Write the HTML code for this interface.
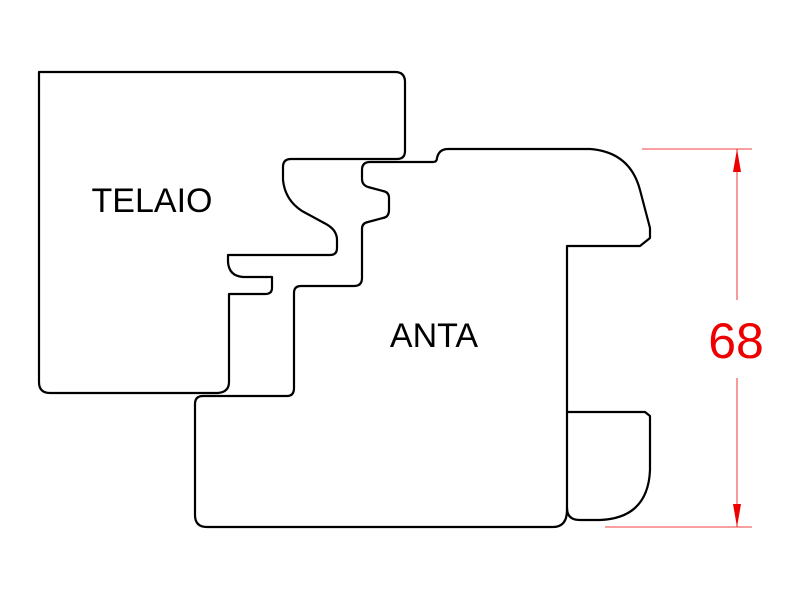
<!DOCTYPE html>
<html><head><style>body{margin:0;background:#fff}svg{display:block}</style></head><body>
<svg width="800" height="600" viewBox="0 0 800 600" xmlns="http://www.w3.org/2000/svg">
<g fill="none" stroke="#000" stroke-width="2.2" stroke-linejoin="round">
<path d="M39,72 L395,72 Q405,72 405,82 L405,151 Q405,159 397,159 L291,159 Q283,159 283,167 L283,180 Q285,200 302,211 L326,224 Q337,230 337,240 L337,248 Q337,255 330,255 L228,255 L228,262 Q229,276 243,277 L272,277 L272,288 Q272,294 265,294 L229,294 L229,382 Q229,392 218,393 L50,393 Q39,393 39,382 Z"/>
<path d="M370,162 L433,162 Q437,162 437,158 Q439,149 448,149 L590,149 Q630,152 640,190 L650,228 L650,238 L640,246 L567,246 L567,510 Q567,527 553,527 L207,527 Q195,527 195,515 L195,404 Q195,396 203,396 L287,396 Q294,396 294,388 L294,293 Q294,286 301,286 L354,286 Q362,286 362,278 L362,229 Q362,223 368,222 L383,218 Q389,217 389,210 L389,198 Q389,192 383,191 L368,187 Q362,185 362,179 L362,170 Q362,162 370,162 Z"/>
<path d="M567,412 L645,412 L650,416 L650,470 Q648,518 600,520 L580,520 Q567,520 567,508"/>
</g>
<g stroke="#e00" stroke-width="0.8" fill="none">
<line x1="642" y1="149" x2="752" y2="149"/>
<line x1="605" y1="527" x2="752" y2="527"/>
<line x1="737" y1="149" x2="737" y2="300"/>
<line x1="737" y1="378" x2="737" y2="527"/>
</g>
<path d="M737,149 L733,172 L741,172 Z M737,527 L733,504 L741,504 Z" fill="#e00"/>
<text x="736" y="358" font-family="Liberation Sans, sans-serif" font-size="50" fill="#e00" text-anchor="middle">68</text>
<text x="152" y="212" font-family="Liberation Sans, sans-serif" font-size="34" fill="#000" text-anchor="middle">TELAIO</text>
<text x="434" y="347" font-family="Liberation Sans, sans-serif" font-size="34" fill="#000" text-anchor="middle">ANTA</text>
</svg>
</body></html>
